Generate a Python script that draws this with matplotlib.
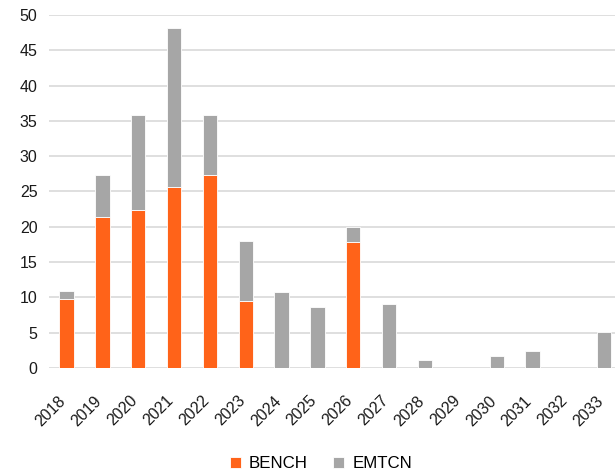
import matplotlib
matplotlib.use("Agg")
import matplotlib.pyplot as plt
import matplotlib.transforms as mtransforms
import numpy as np

plt.rcParams['font.family'] = ['Liberation Sans', 'DejaVu Sans']

years = ["2018", "2019", "2020", "2021", "2022", "2023", "2024", "2025",
         "2026", "2027", "2028", "2029", "2030", "2031", "2032", "2033"]
bench = [9.7, 21.4, 22.4, 25.6, 27.3, 9.4, 0, 0, 17.8, 0, 0, 0, 0, 0, 0, 0]
emtcn = [1.2, 5.9, 13.4, 22.6, 8.5, 8.6, 10.8, 8.6, 2.1, 9.0, 1.15, 0, 1.7, 2.4, 0, 5.1]
y_ticks = [0, 5, 10, 15, 20, 25, 30, 35, 40, 45, 50]

orange = "#FF6319"
grey = "#A6A6A6"

fig = plt.figure(figsize=(6.15, 4.72), dpi=100)
ax = fig.add_axes([48.6 / 615, 1 - 367.8 / 472, 1 - 48.6 / 615, (367.8 - 15) / 472])

x = np.arange(len(years))
w = 0.4
ax.bar(x, bench, w, color=orange, edgecolor="white", linewidth=0.6, label="BENCH", zorder=3)
ax.bar(x, emtcn, w, bottom=bench, color=grey, edgecolor="white", linewidth=0.6, label="EMTCN", zorder=3)

ax.set_ylim(0, 50)
ax.set_xlim(-0.5, 15.30)
ax.set_yticks(y_ticks)
ax.set_xticks(x)
ax.set_xticklabels(years, rotation=45, ha="right", va="center",
                   rotation_mode="anchor", fontsize=11.5)
ax.tick_params(axis="y", labelsize=11.5, length=0, pad=8, colors="#1a1a1a")
ax.tick_params(axis="x", length=0, pad=22, colors="#1a1a1a")

# nudge the slanted year labels slightly left
shift = mtransforms.ScaledTranslation(-3 / 100, 0, fig.dpi_scale_trans)
for lbl in ax.get_xticklabels():
    lbl.set_transform(lbl.get_transform() + shift)

ax.grid(axis="y", color="#D9D9D9", linewidth=1.2, zorder=0)
ax.set_axisbelow(True)
for s in ax.spines.values():
    s.set_visible(False)

handles, labels = ax.get_legend_handles_labels()
fig.legend(handles, labels, loc="center", bbox_to_anchor=(0.522, 1 - 464 / 472), ncol=2,
           frameon=False, fontsize=12.2, handlelength=0.65, handleheight=0.65,
           handletextpad=0.5, columnspacing=1.5)

fig.savefig("out.png", dpi=100)
